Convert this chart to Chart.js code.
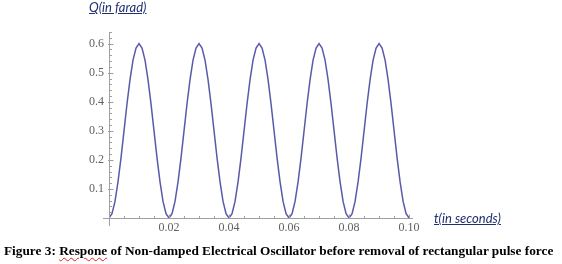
<!DOCTYPE html>
<html>
<head>
<meta charset="utf-8">
<script src="https://cdn.jsdelivr.net/npm/chart.js@4.4.0/dist/chart.umd.min.js"></script>
<style>
  html, body { margin:0; padding:0; background:#fff; }
  #wrap { position:relative; width:562px; height:264px; overflow:hidden; }
  #c { position:absolute; left:0; top:0; }
  .atitle { position:absolute; font-family:Lato, "Open Sans", sans-serif; font-style:italic; font-size:13px; line-height:15px; color:#1f2f6f; text-decoration:underline; white-space:nowrap; }
  #cap { position:absolute; left:4px; top:243px; font-family:"Liberation Serif", "Times New Roman", serif; font-weight:bold; font-size:13.3px; line-height:15px; color:#000; white-space:nowrap; }
  .sp { text-decoration: underline wavy #e02020; text-decoration-thickness:1px; text-underline-offset:2px; }
</style>
</head>
<body>
<div id="wrap">
  <canvas id="c" width="562" height="264"></canvas>
  <div class="atitle" style="left:89px; top:0px;">Q(in farad)</div>
  <div class="atitle" style="left:434px; top:211px;">t(in seconds)</div>
  <div id="cap">Figure 3: <span class="sp">Respone</span> of Non-damped Electrical Oscillator before removal of rectangular pulse force</div>
</div>
<script>
// time in seconds
const times = [
  0.000,0.001,0.002,0.003,0.004,0.005,0.006,0.007,0.008,0.009,
  0.010,0.011,0.012,0.013,0.014,0.015,0.016,0.017,0.018,0.019,
  0.020,0.021,0.022,0.023,0.024,0.025,0.026,0.027,0.028,0.029,
  0.030,0.031,0.032,0.033,0.034,0.035,0.036,0.037,0.038,0.039,
  0.040,0.041,0.042,0.043,0.044,0.045,0.046,0.047,0.048,0.049,
  0.050,0.051,0.052,0.053,0.054,0.055,0.056,0.057,0.058,0.059,
  0.060,0.061,0.062,0.063,0.064,0.065,0.066,0.067,0.068,0.069,
  0.070,0.071,0.072,0.073,0.074,0.075,0.076,0.077,0.078,0.079,
  0.080,0.081,0.082,0.083,0.084,0.085,0.086,0.087,0.088,0.089,
  0.090,0.091,0.092,0.093,0.094,0.095,0.096,0.097,0.098,0.099,
  0.100
];
// charge Q in farad
const charge = [
  0,0.015,0.057,0.124,0.207,0.300,0.393,0.476,0.543,0.585,
  0.600,0.585,0.543,0.476,0.393,0.300,0.207,0.124,0.057,0.015,
  0,0.015,0.057,0.124,0.207,0.300,0.393,0.476,0.543,0.585,
  0.600,0.585,0.543,0.476,0.393,0.300,0.207,0.124,0.057,0.015,
  0,0.015,0.057,0.124,0.207,0.300,0.393,0.476,0.543,0.585,
  0.600,0.585,0.543,0.476,0.393,0.300,0.207,0.124,0.057,0.015,
  0,0.015,0.057,0.124,0.207,0.300,0.393,0.476,0.543,0.585,
  0.600,0.585,0.543,0.476,0.393,0.300,0.207,0.124,0.057,0.015,
  0,0.015,0.057,0.124,0.207,0.300,0.393,0.476,0.543,0.585,
  0.600,0.585,0.543,0.476,0.393,0.300,0.207,0.124,0.057,0.015,
  0
];
const xTickValues = [0.02, 0.04, 0.06, 0.08, 0.10];
const xTickLabels = ["0.02", "0.04", "0.06", "0.08", "0.10"];
const yTickValues = [0.1, 0.2, 0.3, 0.4, 0.5, 0.6];
const yTickLabels = ["0.1", "0.2", "0.3", "0.4", "0.5", "0.6"];
const xMinorStep = 0.005;
const yMinorStep = 0.02;

const points = times.map((t, i) => ({ x: t, y: charge[i] }));

const axisPlugin = {
  id: 'mmaAxes',
  afterDraw(chart) {
    const ctx = chart.ctx;
    const xs = chart.scales.x, ys = chart.scales.y;
    const x0 = xs.getPixelForValue(0), y0 = ys.getPixelForValue(0);
    ctx.save();
    ctx.strokeStyle = '#a0a0a0';
    ctx.lineWidth = 1;
    ctx.beginPath();
    ctx.moveTo(Math.round(x0) + 0.5, chart.chartArea.top);
    ctx.lineTo(Math.round(x0) + 0.5, y0 + 8);
    ctx.moveTo(x0 - 6, Math.round(y0) + 0.5);
    ctx.lineTo(chart.chartArea.right, Math.round(y0) + 0.5);
    for (let k = 1; k * xMinorStep <= xs.max + 1e-9; k++) {
      const v = k * xMinorStep;
      const px = Math.round(xs.getPixelForValue(v)) + 0.5;
      const major = k % 4 === 0;
      ctx.moveTo(px, Math.round(y0) + 0.5);
      ctx.lineTo(px, Math.round(y0) + 0.5 - (major ? 4 : 2.5));
    }
    for (let k = 1; k * yMinorStep <= ys.max + 1e-9; k++) {
      const v = k * yMinorStep;
      const py = Math.round(ys.getPixelForValue(v)) + 0.5;
      const major = k % 5 === 0;
      ctx.moveTo(Math.round(x0) + 0.5 - (major ? 1.5 : 0), py);
      ctx.lineTo(Math.round(x0) + 0.5 + (major ? 4 : 2.5), py);
    }
    ctx.stroke();
    ctx.restore();
  }
};

new Chart(document.getElementById('c'), {
  type: 'scatter',
  data: {
    datasets: [{
      data: points,
      showLine: true,
      borderColor: '#5a5aaa',
      borderWidth: 1.5,
      pointRadius: 0,
      tension: 0
    }]
  },
  options: {
    responsive: false,
    animation: false,
    events: [],
    layout: { padding: { left: 0, top: 32, right: 149, bottom: 0 } },
    plugins: { legend: { display: false }, tooltip: { enabled: false } },
    scales: {
      x: {
        type: 'linear', min: 0, max: 0.1013,
        afterFit(s) { s.height = 46; },
        afterBuildTicks(s) { s.ticks = xTickValues.map(v => ({ value: v })); },
        grid: { display: false, drawTicks: false },
        border: { display: false },
        ticks: {
          padding: 3, color: '#606060', autoSkip: false, maxRotation: 0,
          font: { family: '"Liberation Serif", serif', size: 12 },
          callback(v) { const i = xTickValues.findIndex(t => Math.abs(t - v) < 1e-9); return i >= 0 ? xTickLabels[i] : ''; }
        }
      },
      y: {
        type: 'linear', min: 0, max: 0.64,
        afterFit(s) { s.width = 109; },
        afterBuildTicks(s) { s.ticks = yTickValues.map(v => ({ value: v })); },
        grid: { display: false, drawTicks: false },
        border: { display: false },
        ticks: {
          padding: 5, color: '#606060', autoSkip: false,
          font: { family: '"Liberation Serif", serif', size: 12 },
          callback(v) { const i = yTickValues.findIndex(t => Math.abs(t - v) < 1e-9); return i >= 0 ? yTickLabels[i] : ''; }
        }
      }
    }
  },
  plugins: [axisPlugin]
});
</script>
</body>
</html>
